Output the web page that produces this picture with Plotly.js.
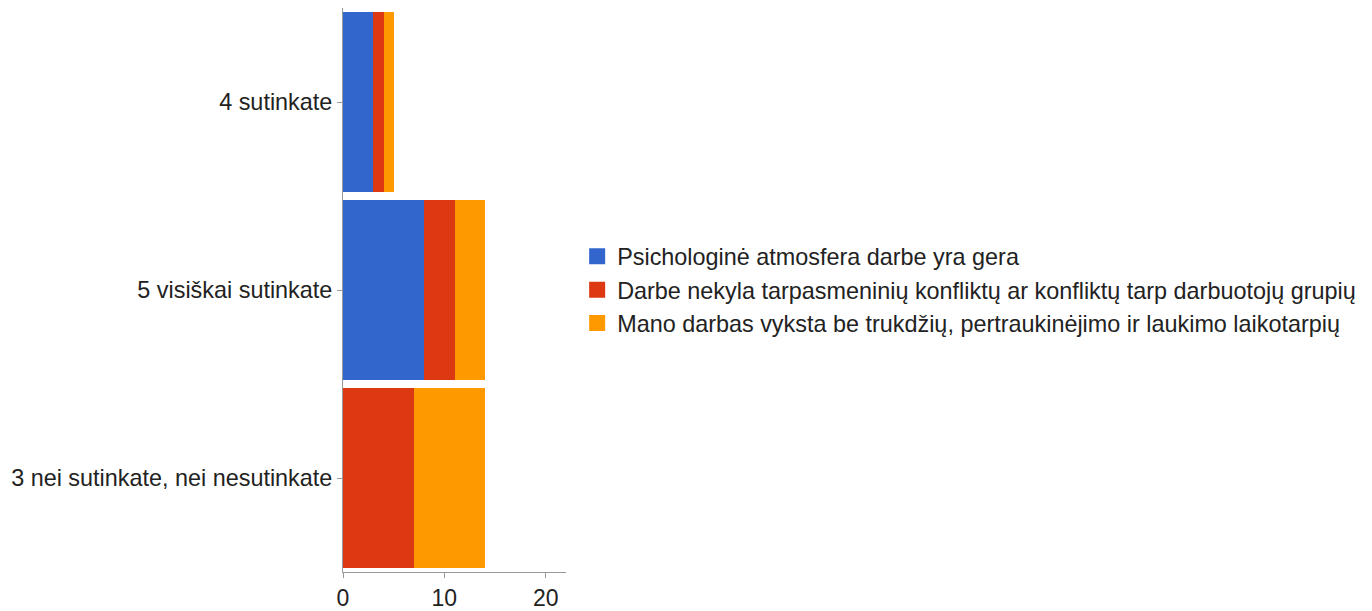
<!DOCTYPE html>
<html>
<head>
<meta charset="utf-8">
<script src="https://cdn.plot.ly/plotly-3.0.1.min.js"></script>
<style>html,body{margin:0;padding:0;background:#fff;}#chart{width:1372px;height:611px;}</style>
</head>
<body>
<div id="chart"></div>
<script>
const categories = ["4 sutinkate", "5 visiškai sutinkate", "3 nei sutinkate, nei nesutinkate"];
const seriesNames = [
  "Psichologinė atmosfera darbe yra gera",
  "Darbe nekyla tarpasmeninių konfliktų ar konfliktų tarp darbuotojų grupių",
  "Mano darbas vyksta be trukdžių, pertraukinėjimo ir laukimo laikotarpių"
];
const psichologine = [3, 8, 0];
const konfliktai = [1, 3, 7];
const trukdziai = [1, 3, 7];
const xTicks = [0, 10, 20];

const colors = ["#3366cc", "#dc3912", "#ff9900"];
const values = [psichologine, konfliktai, trukdziai];

const traces = [];
values.forEach((v, i) => {
  traces.push({
    type: "bar", orientation: "h",
    x: v, y: categories, name: seriesNames[i],
    marker: {color: colors[i], line: {width: 0}},
    showlegend: false, hoverinfo: "x+name"
  });
});
values.forEach((v, i) => {
  traces.push({
    type: "scatter", mode: "markers",
    x: [null], y: [null], name: seriesNames[i],
    marker: {color: colors[i], symbol: "square", size: 16},
    showlegend: true, hoverinfo: "skip"
  });
});

const layout = {
  width: 1372, height: 611,
  barmode: "stack",
  bargap: 0.043,
  paper_bgcolor: "#fff", plot_bgcolor: "#fff",
  font: {family: "Liberation Sans, Arial, sans-serif", size: 23, color: "#222"},
  margin: {l: 343, r: 806, t: 8, b: 39},
  xaxis: {
    range: [0, 22], tickvals: xTicks, ticktext: xTicks.map(String),
    showgrid: false, zeroline: false, showline: true, linecolor: "#999", linewidth: 1,
    ticks: "outside", ticklen: 5, tickcolor: "#999",
    tickfont: {size: 23, color: "#222"}, fixedrange: true
  },
  yaxis: {
    type: "category", categoryorder: "array", categoryarray: categories,
    autorange: "reversed",
    showgrid: false, zeroline: false, showline: true, linecolor: "#999", linewidth: 1,
    ticks: "outside", ticklen: 5, tickcolor: "#999",
    tickfont: {size: 23.4, color: "#222"}, fixedrange: true
  },
  legend: {
    x: 1.05, xanchor: "left", y: 0.5, yanchor: "middle",
    traceorder: "normal",
    font: {size: 23.4, color: "#222"}, bgcolor: "rgba(0,0,0,0)"
  },
  showlegend: true
};

Plotly.newPlot("chart", traces, layout, {displayModeBar: false, staticPlot: true});
</script>
</body>
</html>
